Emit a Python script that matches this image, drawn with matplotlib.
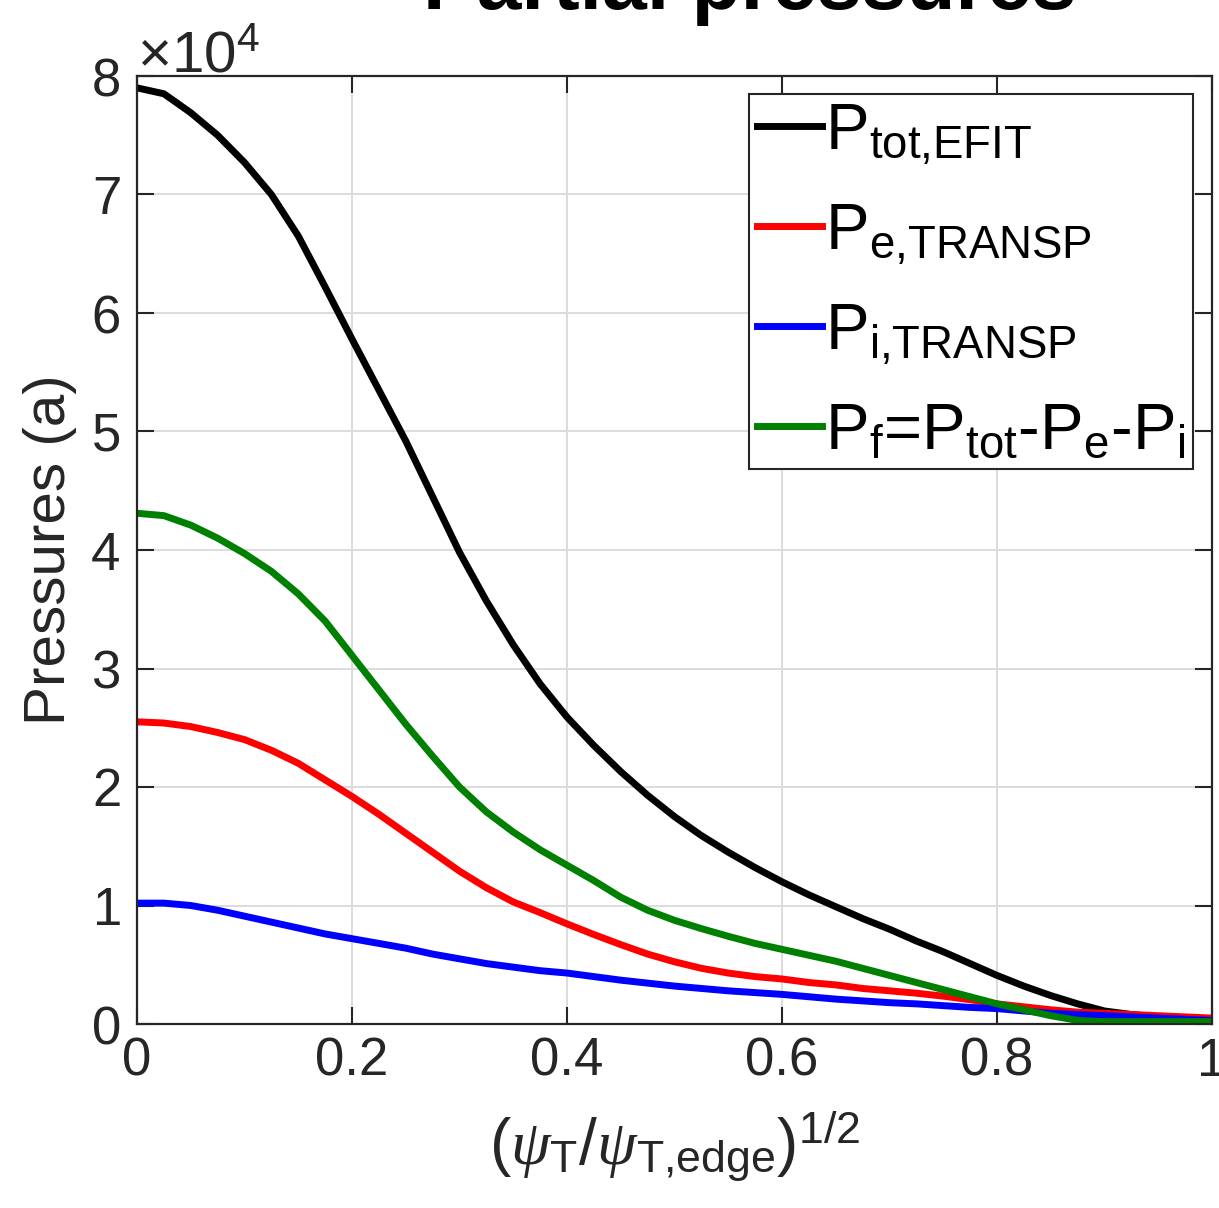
import numpy as np
import matplotlib
matplotlib.use("Agg")
import matplotlib.pyplot as plt

# radial coordinate sqrt(psi_T / psi_T,edge)
rho = [0.000, 0.025, 0.050, 0.075, 0.100, 0.125, 0.150, 0.175, 0.200, 0.225,
       0.250, 0.275, 0.300, 0.325, 0.350, 0.375, 0.400, 0.425, 0.450, 0.475,
       0.500, 0.525, 0.550, 0.575, 0.600, 0.625, 0.650, 0.675, 0.700, 0.725,
       0.750, 0.775, 0.800, 0.825, 0.850, 0.875, 0.900, 0.925, 0.950, 0.975, 1.000]

# pressures, in units of 1e4
p_tot = [7.90, 7.85, 7.69, 7.50, 7.27, 7.00, 6.65, 6.22, 5.78, 5.35,
         4.92, 4.45, 3.98, 3.57, 3.20, 2.87, 2.59, 2.35, 2.13, 1.93,
         1.75, 1.59, 1.45, 1.32, 1.20, 1.09, 0.99, 0.89, 0.80, 0.70,
         0.61, 0.51, 0.41, 0.32, 0.24, 0.17, 0.11, 0.08, 0.06, 0.05, 0.04]
p_e = [2.55, 2.54, 2.51, 2.46, 2.40, 2.31, 2.20, 2.06, 1.92, 1.77,
       1.61, 1.45, 1.29, 1.15, 1.03, 0.94, 0.845, 0.755, 0.67, 0.59,
       0.525, 0.47, 0.43, 0.40, 0.38, 0.35, 0.33, 0.30, 0.28, 0.26,
       0.235, 0.205, 0.17, 0.145, 0.12, 0.10, 0.09, 0.08, 0.07, 0.06, 0.05]
p_i = [1.02, 1.02, 1.00, 0.96, 0.91, 0.86, 0.81, 0.76, 0.72, 0.68,
       0.64, 0.59, 0.55, 0.51, 0.48, 0.45, 0.43, 0.40, 0.37, 0.345,
       0.32, 0.30, 0.28, 0.265, 0.25, 0.23, 0.21, 0.195, 0.18, 0.17,
       0.155, 0.14, 0.13, 0.11, 0.09, 0.08, 0.07, 0.06, 0.05, 0.04, 0.03]
p_f = [4.31, 4.29, 4.21, 4.10, 3.97, 3.82, 3.63, 3.40, 3.11, 2.82,
       2.53, 2.26, 2.00, 1.79, 1.62, 1.47, 1.34, 1.21, 1.07, 0.96,
       0.875, 0.805, 0.74, 0.68, 0.63, 0.58, 0.53, 0.47, 0.41, 0.35,
       0.29, 0.23, 0.17, 0.12, 0.07, 0.03, 0.02, 0.02, 0.02, 0.02, 0.02]
scale = 1e4

labels = [r'$\mathrm{P}_{\text{tot,EFIT}}$',
          r'$\mathrm{P}_{\text{e,TRANSP}}$',
          r'$\mathrm{P}_{\text{i,TRANSP}}$',
          r'$\mathrm{P}_{\text{f}}\text{=P}_{\text{tot}}\text{-P}_{\text{e}}\text{-P}_{\text{i}}$']
colors = ['black', '#ff0000', '#0000ff', '#008000']
xticks = [0, 0.2, 0.4, 0.6, 0.8, 1.0]
xticklabels = ['0', '0.2', '0.4', '0.6', '0.8', '1']

plt.rcParams['font.family'] = ['Liberation Sans', 'DejaVu Sans']
plt.rcParams['mathtext.fontset'] = 'custom'
plt.rcParams['mathtext.rm'] = 'Liberation Sans'
plt.rcParams['mathtext.it'] = 'Liberation Serif:italic'
plt.rcParams['mathtext.bf'] = 'Liberation Sans:bold'

fig = plt.figure(figsize=(12.19, 12.08), dpi=100)
ax = fig.add_axes([137 / 1219, 1 - 1024 / 1208, 1075 / 1219, 948 / 1208])

axis_col = '#262626'
for series, col, lab in zip([p_tot, p_e, p_i, p_f], colors, labels):
    ax.plot(rho, np.array(series) * scale, color=col, lw=5.0, label=lab)

ax.set_xlim(0, 1)
ax.set_ylim(0, 80000)
ax.set_xticks(xticks)
ax.set_xticklabels(xticklabels)
ax.set_yticks(np.arange(0, 80001, 10000))
ax.ticklabel_format(axis='y', style='sci', scilimits=(0, 0), useMathText=True)
ax.yaxis.get_offset_text().set_fontsize(42)
ax.yaxis.get_offset_text().set_color(axis_col)

ax.grid(True, color='#dcdcdc', lw=1.4)
ax.set_axisbelow(True)
ax.tick_params(direction='in', length=12, width=1.5, colors=axis_col,
               labelsize=38, top=True, right=True)
ax.tick_params(axis='x', pad=9)
ax.tick_params(axis='y', pad=12)
for sp in ax.spines.values():
    sp.set_color(axis_col)
    sp.set_linewidth(1.6)

ax.set_xlabel(r'$(\psi_{\mathrm{T}}/\psi_{\text{T,edge}})^{1/2}$', fontsize=46,
              color=axis_col, labelpad=16)
ax.set_ylabel('Pressures (a)', fontsize=42, color=axis_col, labelpad=10)

leg = ax.legend(loc='upper right', bbox_to_anchor=((1193 - 137) / 1075, (1024 - 94) / 948),
                borderaxespad=0, fontsize=47, handlelength=1.0, handletextpad=0.05,
                labelspacing=0.55, borderpad=0.12, fancybox=False, framealpha=1)
leg.get_frame().set_edgecolor(axis_col)
leg.get_frame().set_linewidth(1.5)

fig.text(750 / 1219, 1 - 9 / 1208, 'Partial pressures', fontsize=58, fontweight='bold',
         ha='center', va='baseline', color='black')

fig.savefig('out.png', dpi=100)
